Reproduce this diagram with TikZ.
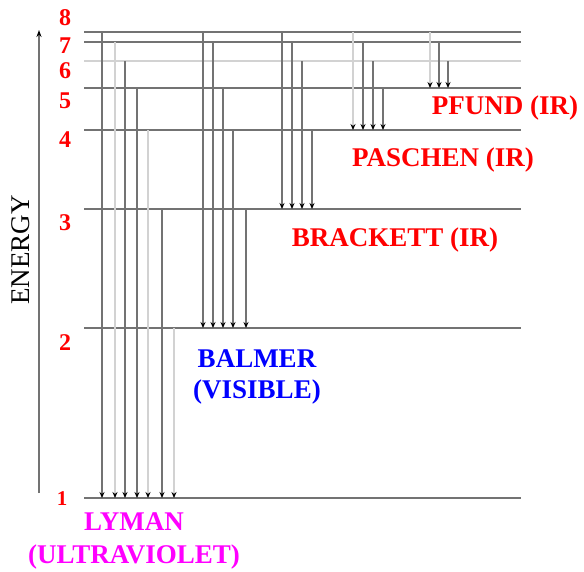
\documentclass[tikz,border=0pt]{standalone}
\usepackage{fontspec}
\setmainfont{Liberation Serif}
\usepackage{xcolor}
\definecolor{lvlgray}{RGB}{115,115,115}
\definecolor{lvllight}{RGB}{210,210,210}
\definecolor{lymanpink}{RGB}{255,0,255}
\usetikzlibrary{arrows.meta}

\tikzset{
  level/.style={draw=lvlgray,line width=1.2pt},
  faint/.style={draw=lvllight,line width=1.4pt},
  trans/.style={draw=lvlgray,line width=1.2pt,-{Stealth[length=6pt,width=5pt,color=black]}},
  translight/.style={trans,draw=lvllight},
  levnum/.style={text=red,font=\fontsize{24}{24}\selectfont\bfseries,inner sep=0pt},
  series/.style={font=\fontsize{27}{31}\selectfont\bfseries,align=center,inner sep=0pt}
}

\begin{document}
\begin{tikzpicture}[x=1pt,y=-1pt]
  \useasboundingbox (0,0) rectangle (584,571);

  % energy levels
  \foreach \n/\y in {1/498,2/328,3/209,4/130,5/88,7/42,8/32}
    \coordinate (n\n) at (84,\y);
  \coordinate (n6) at (84,61);
  \foreach \n in {1,2,3,4,5,7,8}
    \draw[level] (n\n) -- +(437,0);
  \draw[faint] (n6) -- +(437,0);

  % level numbers
  \node[levnum] (num8) at (65,17.5) {8};
  \node[levnum] (num7) at (65,46) {7};
  \node[levnum] (num6) at (65,71) {6};
  \node[levnum] (num5) at (65,101) {5};
  \node[levnum] (num4) at (65,140) {4};
  \node[levnum] (num3) at (65,223) {3};
  \node[levnum] (num2) at (65,343) {2};
  \node[levnum,font=\fontsize{21}{21}\selectfont\bfseries] (num1) at (62,499) {1};

  % energy axis
  \coordinate (axbot) at (39,493);
  \coordinate (axtop) at (39,30);
  \draw[draw=lvlgray,line width=1.2pt,-{Stealth[length=7pt,width=5pt,color=black]}] (axbot) -- (axtop);
  \node[rotate=90,font=\fontsize{27}{27}\selectfont,inner sep=0pt] (energy) at (21,250) {ENERGY};

  % transitions
  \foreach \x/\a/\b in {102/8/1,125/6/1,137/5/1,162/3/1,
                        203/8/2,213/7/2,223/5/2,233/4/2,246/3/2,
                        282/8/3,292/7/3,302/6/3,312/4/3,
                        363/7/4,373/6/4,383/5/4,
                        439/7/5,448/6/5}
    \draw[trans] (\x,0 |- n\a) -- (\x,0 |- n\b);
  \foreach \x/\a/\b in {115/7/1,148/4/1,174/2/1,353/8/4,430/8/5}
    \draw[translight] (\x,0 |- n\a) -- (\x,0 |- n\b);

  % series names
  \node[series,text=red] (pfund) at (505,108) {PFUND (IR)};
  \node[series,text=red] (paschen) at (443,160) {PASCHEN (IR)};
  \node[series,text=red] (brackett) at (395,240) {BRACKETT (IR)};
  \node[series,text=blue] (balmer) at (257,377) {BALMER\\(VISIBLE)};
  \node[series,text=lymanpink,font=\fontsize{27}{33}\selectfont\bfseries] (lyman) at (134,541) {LYMAN\\(ULTRAVIOLET)};
\end{tikzpicture}
\end{document}
